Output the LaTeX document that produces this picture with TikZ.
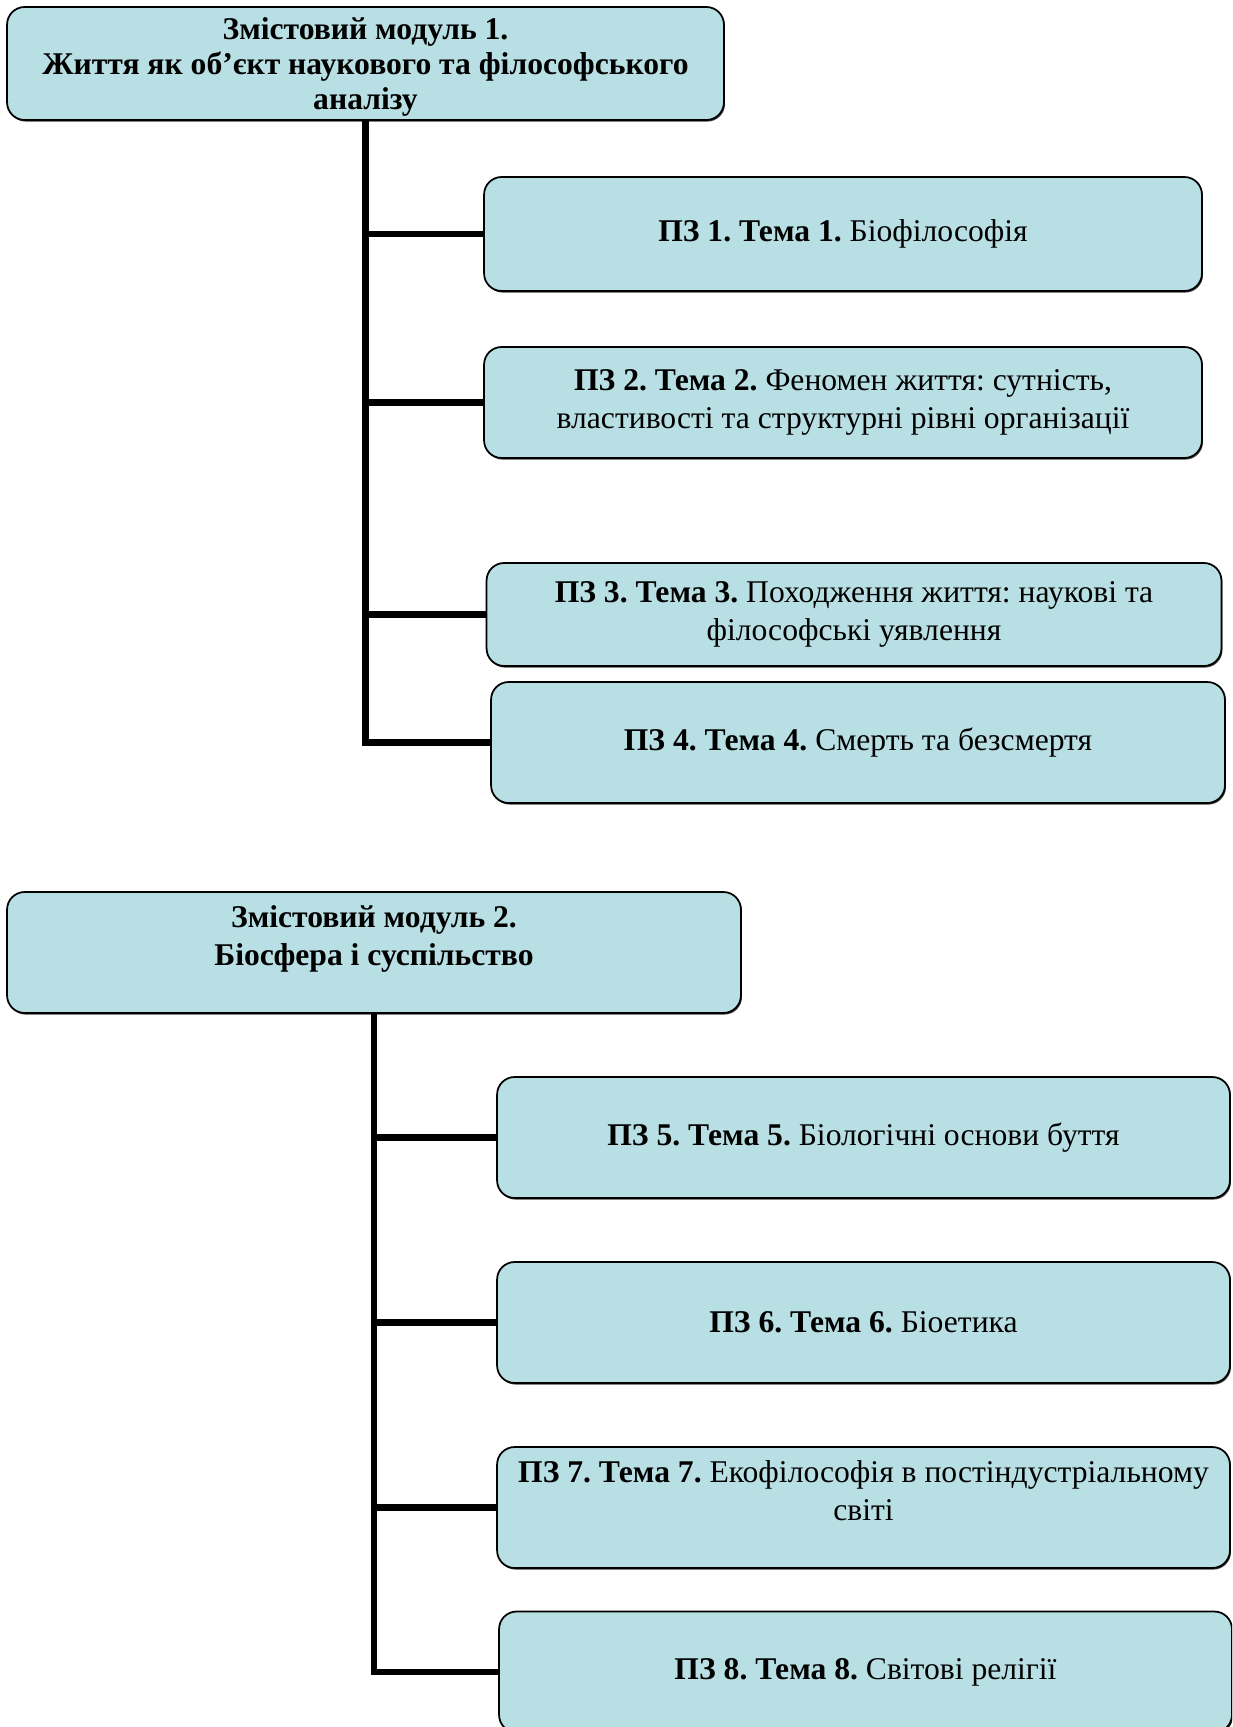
\documentclass[tikz,border=0pt]{standalone}
\usepackage{fontspec}
\setmainfont{Liberation Serif}
\usetikzlibrary{shadows}
\definecolor{boxblue}{RGB}{184,223,227}

\begin{document}
\begin{tikzpicture}[x = 0.02cm, y = -0.02cm,
        box/.style = {draw, line width = 1pt, fill = boxblue, rounded corners = 10pt,
            align = center, inner sep = 2pt, font = \fontsize{18}{21.5}\selectfont\frenchspacing,
            drop shadow = {shadow xshift = 0.6pt, shadow yshift = -0.9pt, fill = black!75, opacity = 1}},
        link/.style = {line width = 3.6pt}]
    \useasboundingbox (0,0) rectangle (1232,1727);
    \clip (0,0) rectangle (1232,1727);
    % module 1
    \node[box, font = \fontsize{18}{20}\selectfont\frenchspacing, text depth = -4pt,
        minimum width = 14.34cm, minimum height = 2.26cm] (m1) at (365.5,63.5)
        {\textbf{Змістовий модуль 1.}\\ \textbf{Життя як об’єкт наукового та філософського}\\ \textbf{аналізу}};
    \node[box, minimum width = 14.36cm, minimum height = 2.28cm] (p1) at (843,234)
        {\textbf{ПЗ 1. Тема 1.} Біофілософія};
    \node[box, minimum width = 14.36cm, minimum height = 2.22cm] (p2) at (843,402.5)
        {\textbf{ПЗ 2. Тема 2.} Феномен життя: сутність,\\ властивості та структурні рівні організації};
    \node[box, minimum width = 14.70cm, minimum height = 2.06cm] (p3) at (854,614.5)
        {\textbf{ПЗ 3. Тема 3.} Походження життя: наукові та\\ філософські уявлення};
    \node[box, minimum width = 14.68cm, minimum height = 2.42cm] (p4) at (858,742.5)
        {\textbf{ПЗ 4. Тема 4.} Смерть та безсмертя};
    \draw[link] (m1.south) |- (p1.west);
    \draw[link] (m1.south) |- (p2.west);
    \draw[link] (m1.south) |- (p3.west);
    \draw[link] (m1.south) |- (p4.west);
    % module 2
    \node[box, minimum width = 14.68cm, minimum height = 2.42cm] (m2) at (374,952.5)
        {\textbf{Змістовий модуль 2.}\\ \textbf{Біосфера і суспільство}\\[-2pt]\mbox{}};
    \node[box, minimum width = 14.66cm, minimum height = 2.42cm] (p5) at (863.5,1137.5)
        {\textbf{ПЗ 5. Тема 5.} Біологічні основи буття};
    \node[box, minimum width = 14.66cm, minimum height = 2.42cm] (p6) at (863.5,1322.5)
        {\textbf{ПЗ 6. Тема 6.} Біоетика};
    \node[box, minimum width = 14.66cm, minimum height = 2.42cm] (p7) at (863.5,1507.5)
        {\textbf{ПЗ 7. Тема 7.} Екофілософія в постіндустріальному\\ світі\\[-2pt]\mbox{}};
    \node[box, minimum width = 14.66cm, minimum height = 2.42cm] (p8) at (865.5,1672)
        {\textbf{ПЗ 8. Тема 8.} Світові релігії};
    \draw[link] (m2.south) |- (p5.west);
    \draw[link] (m2.south) |- (p6.west);
    \draw[link] (m2.south) |- (p7.west);
    \draw[link] (m2.south) |- (p8.west);
\end{tikzpicture}
\end{document}
